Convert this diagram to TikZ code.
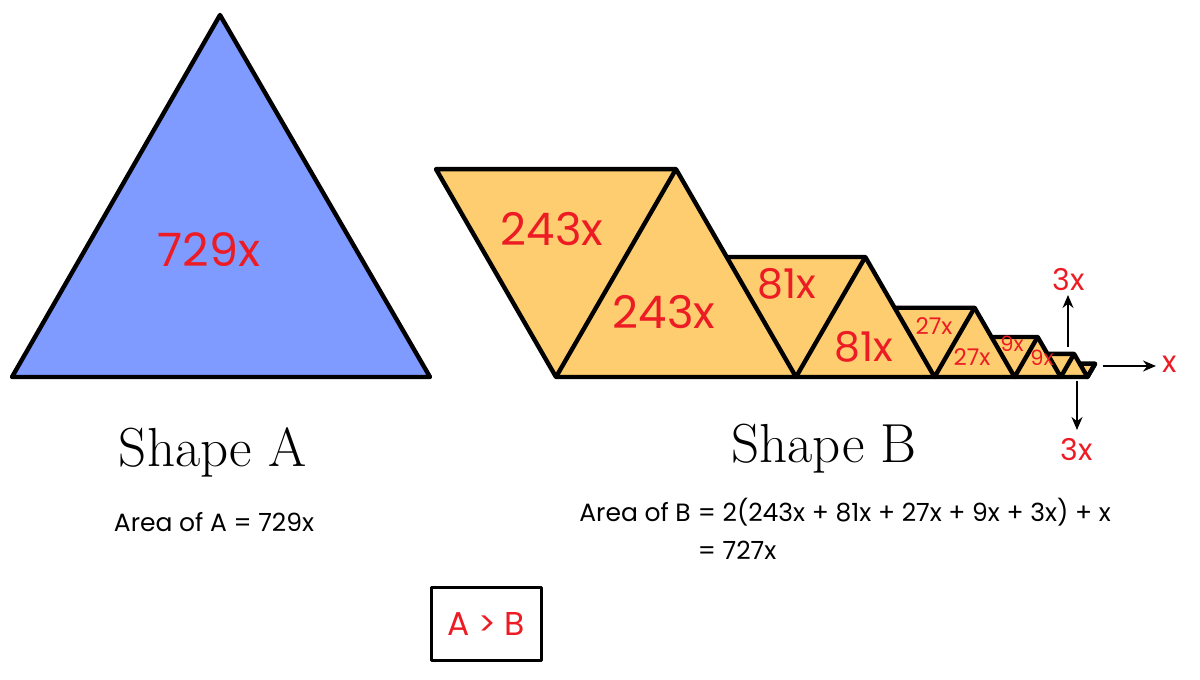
\documentclass[tikz,border=0pt]{standalone}
\usepackage{fontspec}
\usepackage{tikz}
\usetikzlibrary{arrows.meta}
\newfontfamily\comicfont{Poppins}
\definecolor{cLabel}{RGB}{237,28,36}
\definecolor{cShapeA}{RGB}{128,155,255}
\definecolor{cShapeB}{RGB}{253,205,112}

\begin{document}
\begin{tikzpicture}[x=1pt,y=-1pt,line join=round,
  edge/.style={line width=4.4pt},
  lbl/.style={text=cLabel,inner sep=0pt,font=\comicfont\fontsize{#1}{#1}\selectfont},
  txt/.style={inner sep=0pt,font=\comicfont\fontsize{#1}{#1}\selectfont},
  ptr/.style={-{Stealth[length=13pt,width=11pt]},line width=1.6pt}]
\useasboundingbox (0,0) rectangle (1200,680);
% shape A
\coordinate (aTop) at (220,15);
\coordinate (aL) at (12,377);
\coordinate (aR) at (430,377);
\draw[edge,fill=cShapeA] (aL)--(aTop)--(aR)--cycle;
\node[lbl=46] (tA) at (209,250) {729x};
% shape B, level k: down triangle tl/tr + bottom, up triangle to D
\coordinate (tl1) at (436,169.15); \coordinate (tr1) at (676,169.15);
\coordinate (D0) at (556,377);     \coordinate (D1) at (796,377);
\coordinate (tl2) at (726.72,257); \coordinate (tr2) at (865.28,257);   \coordinate (D2) at (934.56,377);
\coordinate (tl3) at (894.56,307.72); \coordinate (tr3) at (974.56,307.72); \coordinate (D3) at (1014.56,377);
\coordinate (tl4) at (991.47,337); \coordinate (tr4) at (1037.65,337);  \coordinate (D4) at (1060.75,377);
\coordinate (tl5) at (1047.42,353.91); \coordinate (tr5) at (1074.08,353.91); \coordinate (D5) at (1087.42,377);
\coordinate (tl6) at (1079.72,363.67); \coordinate (tr6) at (1095.12,363.67);
\draw[edge,fill=cShapeB] (tl1)--(tr1)--(tl2)--(tr2)--(tl3)--(tr3)--(tl4)--(tr4)
  --(tl5)--(tr5)--(tl6)--(tr6)--(D5)--(D0)--cycle;
\draw[edge] (tr1)--(D0);
\foreach \k/\j in {2/1,3/2,4/3,5/4,6/5}
  \draw[edge] (tl\k)--(D\j)--(tr\k);
\node[lbl=45] (t243a) at (552,229) {243x};
\node[lbl=45] (t243b) at (664,312) {243x};
\node[lbl=41] (t81a) at (787,284) {81x};
\node[lbl=41] (t81b) at (864,347) {81x};
\node[lbl=23] (t27a) at (934,326) {27x};
\node[lbl=23] (t27b) at (972,357) {27x};
\node[lbl=21] (t9a) at (1012,344) {9x};
\node[lbl=21] (t9b) at (1042,358) {9x};
% arrows to the last pieces
\coordinate (upS) at (1068,347); \coordinate (upE) at (1068,295);
\coordinate (dnS) at (1077,381); \coordinate (dnE) at (1077,430);
\coordinate (rtS) at (1103,366); \coordinate (rtE) at (1156,366);
\node[lbl=30] (t3up) at (1069,280) {3x};
\node[lbl=30] (t3dn) at (1077,450) {3x};
\node[lbl=30] (t1) at (1170,364) {x};
\draw[ptr] (upS)--(upE);
\draw[ptr] (dnS)--(dnE);
\draw[ptr] (rtS)--(rtE);
% captions
\node[font=\fontsize{55}{55}\selectfont,inner sep=0pt] (capA) at (213,452) {Shape A};
\node[font=\fontsize{55}{55}\selectfont,inner sep=0pt] (capB) at (824,449) {Shape B};
\node[txt=25] (areaA) at (214,522) {Area of A = 729x};
\node[txt=25,anchor=base east] (areaB) at (691,521) {Area of B};
\node[txt=25,anchor=base west] (areaBeq) at (areaB.base east) {\ = 2(243x + 81x + 27x + 9x + 3x) + x};
\node[txt=25,anchor=base west] (areaBtwo) at ([yshift=-38pt]areaBeq.base west) {\ = 727x};
% result
\node[draw,line width=3pt,minimum width=110pt,minimum height=73pt,text=cLabel,
  font=\comicfont\fontsize{33}{33}\selectfont] (res) at (486,623.5) {A > B};
\end{tikzpicture}
\end{document}
